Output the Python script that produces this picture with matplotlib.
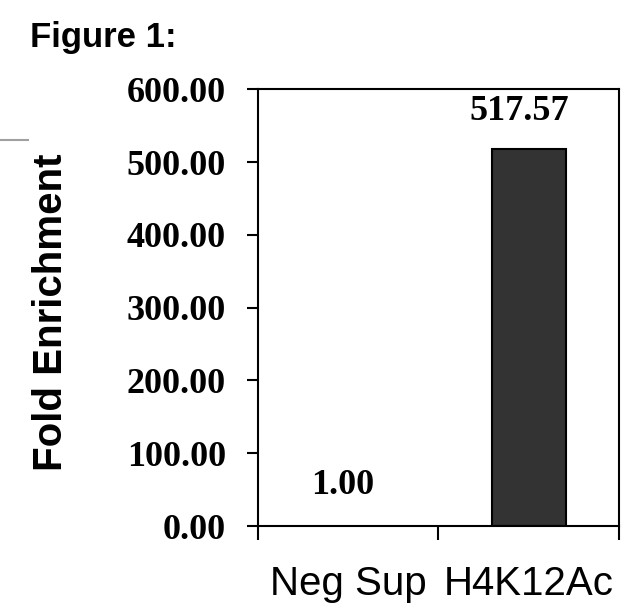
import matplotlib
matplotlib.use('Agg')
import matplotlib.pyplot as plt
from matplotlib.lines import Line2D

# data
categories = ['Neg Sup', 'H4K12Ac']
values = [1.00, 517.57]
value_labels = ['1.00', '517.57']
yticks = [0, 100, 200, 300, 400, 500, 600]

fig = plt.figure(figsize=(6.4, 6.11), dpi=100)
ax = fig.add_axes([0.403, 0.139, 0.564, 0.715])

ax.bar([1], [values[1]], width=0.41, color='#333333', edgecolor='black', linewidth=1.5)
ax.bar([0], [values[0]], width=0.41, color='#333333', edgecolor='none')

ax.set_xlim(-0.5, 1.5)
ax.set_ylim(0, 600)

serif = 'Liberation Serif'
sans = 'Liberation Sans'

# value labels above bars
ax.text(0 - 0.03, 33, value_labels[0], ha='center', va='bottom',
        fontsize=26, fontweight='bold', family=serif)
ax.text(1 - 0.05, 547, value_labels[1], ha='center', va='bottom',
        fontsize=26, fontweight='bold', family=serif)

ax.set_yticks(yticks)
ax.set_yticklabels(['%.2f' % v for v in yticks], fontsize=26,
                   fontweight='bold', family=serif)
ax.tick_params(axis='y', direction='out', length=8, width=1.5, pad=15)

ax.set_xticks([0, 1])
ax.set_xticklabels(categories, fontsize=29, family=sans)
ax.set_xticks([-0.5, 0.5, 1.5], minor=True)
ax.tick_params(axis='x', which='major', length=0, pad=28)
ax.tick_params(axis='x', which='minor', direction='out', length=10, width=1.5)

for s in ax.spines.values():
    s.set_linewidth(1.5)

ax.set_ylabel('Fold Enrichment', fontsize=29, fontweight='bold', family=sans)
ax.yaxis.set_label_coords(-0.52, 0.49)

fig.text(0.047, 0.938, 'Figure 1:', fontsize=25, fontweight='bold',
         family=sans, ha='left', va='center')
fig.add_artist(Line2D([0, 0.044], [0.771, 0.771], color='#a0a0a0', lw=1.5))

fig.savefig('out.png', dpi=100)
